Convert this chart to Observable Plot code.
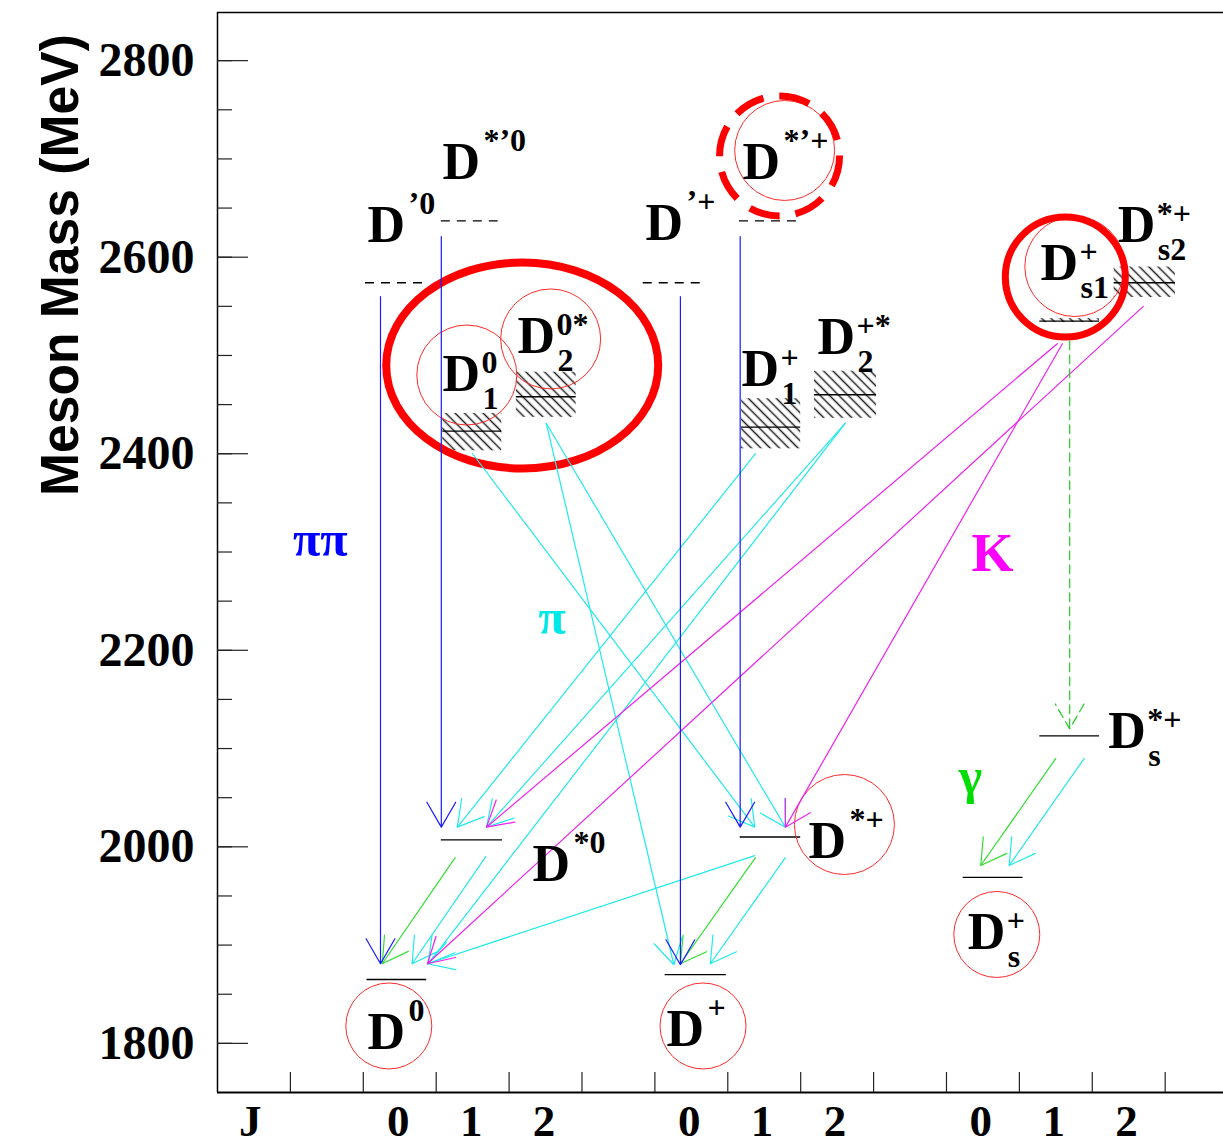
<!DOCTYPE html>
<html><head><meta charset="utf-8">
<script src="https://cdn.jsdelivr.net/npm/d3@7"></script>
<script src="https://cdn.jsdelivr.net/npm/@observablehq/plot@0.6"></script>
<style>body{margin:0;background:#fff} #chart svg{display:block;background:#fff}</style>
</head><body><div id="chart"></div>
<script>
// ---------------- data ----------------
// energy levels (MeV) and their J-column extents
const levelNames = ["D0","D*0","D+","D*+","Ds+","Ds*+","D1_0","D2_0","D1+","D2+","Ds1+","Ds2+","D'0","D*'0","D'+","D*'+"];
const levelMass  = [1865,2007,1870,2010,1969,2113,2423,2458,2427,2460,2535,2574,2574,2637,2574,2637];
const levelX1    = [2.05,3.07,6.14,7.17,10.23,11.28,3.09,4.10,7.19,8.19,11.28,12.30,2.03,3.07,5.84,7.16];
const levelX2    = [2.87,3.91,6.98,8.00,11.05,12.10,3.90,4.92,8.00,9.04,12.10,13.14,2.85,3.85,6.63,7.95];
const levelPredicted = [false,false,false,false,false,false,false,false,false,false,false,false,true,true,true,true];

// broad states (width bands)
const broadNames = ["D1_0","D2_0","D1+","D2+","Ds1+","Ds2+"];
const broadLow   = [2403,2437,2405,2436,2533.5,2559];
const broadHigh  = [2441,2483,2456,2484,2537.5,2590];

// decay arrows: type, start (x, MeV), end (x, MeV)
const arrowType = ["pipi","pipi","pipi","pipi","pi","pi","pi","pi","pi","pi","pi","pi","pi","pi","gamma","gamma","gamma","gammaDash","K","K","K"];
const arrowX1 = [2.236,3.07,6.35,7.17,3.50,4.51,4.51,7.38,8.61,8.61,3.68,7.79,7.37,11.89,3.26,7.38,11.50,11.69,11.52,11.59,12.70];
const arrowM1 = [2560,2621,2560,2621,2400,2431,2431,2400,2431,2431,1990,1989,1991,2090,1989,1989,2090,2515,2512,2512,2550];
const arrowX2 = [2.236,3.07,6.35,7.17,7.37,6.26,7.79,3.29,3.69,2.89,2.67,6.76,2.88,10.86,2.26,6.35,10.47,11.69,3.69,7.79,2.88];
const arrowM2 = [1881,2020,1880,2020,2020,1880,2020,2020,2020,1881,1881,1881,1881,1981,1881,1881,1981,2120,2020,2020,1881];

// state labels
const labelSup = ["’0","*’0","0","0*","’+","*’+","+","+*","+","*+","*+","+","0","*0","+","*+"];
const labelSub = ["","","1","2","","","1","2","s1","s2","s","s","","","",""];
const labelX   = [2.058,3.086,3.086,4.115,5.871,7.202,7.188,8.23,11.29,12.35,12.22,10.29,2.058,4.32,6.159,8.107];
const labelM   = [2615,2680,2464.3,2503,2617,2680,2469.4,2502,2576.3,2615,2100.1,1896.5,1793.8,1965.7,1797.8,1989.1];

// decay-mode labels
const modeText = ["ππ","π","K","γ"];
const modeType = ["pipi","pi","K","gamma"];
const modeX    = [1.41,4.59,10.63,10.33];
const modeM    = [2312,2233,2298,2071];

// highlight circles (centres)
const smallRingX = [2.35,6.66,10.69];
const smallRingM = [1817.7,1817.7,1910.8];
const ringX = [8.60,3.42,4.57,7.78,11.76];
const ringM = [2022.7,2480.1,2516.8,2708.6,2590.5];
const boldRingX = [11.63];   const boldRingM = [2579.8];
const dashRingX = [7.71];    const dashRingM = [2703];
const ellipseX  = [4.18];    const ellipseM  = [2489.8];

// axes
const yMajor = [1800,2000,2200,2400,2600,2800];
const yMinor = [1800,1850,1900,1950,2000,2050,2100,2150,2200,2250,2300,2350,2400,2450,2500,2550,2600,2650,2700,2750,2800];
const xTicks = [1,2,3,4,5,6,7,8,9,10,11,12,13];
const xTickLabels = ["J","0","1","2","0","1","2","0","1","2"];
const xTickPos    = [0.45,2.48,3.48,4.48,6.47,7.47,8.47,10.47,11.47,12.47];

// ---------------- build ----------------
const W = 1223, H = 1146, mL = 217, mR = 0, mT = 12, mB = 54;
const xDom = [0, 13.8], yDom = [1750, 2849];
const pxX = (W - mL - mR) / (xDom[1] - xDom[0]);
const pxY = (H - mT - mB) / (yDom[1] - yDom[0]);

const levels = levelNames.map((n, i) => ({n, m: levelMass[i], x1: levelX1[i], x2: levelX2[i], pred: levelPredicted[i]}));
const broad = broadNames.map((n, i) => {
  const L = levels.find(l => l.n === n);
  return {n, x1: L.x1, x2: L.x2, lo: broadLow[i], hi: broadHigh[i]};
});
const arrows = arrowType.map((t, i) => ({t, x1: arrowX1[i], y1: arrowM1[i], x2: arrowX2[i], y2: arrowM2[i]}));
const labels = labelSup.map((s, i) => ({sup: s, sub: labelSub[i], x: labelX[i], m: labelM[i]}));
const modes = modeText.map((s, i) => ({s, t: modeType[i], x: modeX[i], m: modeM[i]}));
const xLabelMap = new Map(xTickPos.map((p, i) => [p, xTickLabels[i]]));

const col = {pipi: "#1a1aff", pi: "#22eaea", K: "#ee22ee", gamma: "#33dd33", gammaDash: "#22cc22"};
const txtCol = {pipi: "#0000ff", pi: "#00e8e8", K: "#ff00ff", gamma: "#00dd00"};
const serif = "'Liberation Serif','Times New Roman',serif";
const sans = "'Liberation Sans',Arial,sans-serif";

const ellipseSymbol = {
  draw(ctx, size) {
    const rx = Math.sqrt(size / Math.PI), ry = rx * 103 / 136, k = 0.5523;
    ctx.moveTo(rx, 0);
    ctx.bezierCurveTo(rx, ry * k, rx * k, ry, 0, ry);
    ctx.bezierCurveTo(-rx * k, ry, -rx, ry * k, -rx, 0);
    ctx.bezierCurveTo(-rx, -ry * k, -rx * k, -ry, 0, -ry);
    ctx.bezierCurveTo(rx * k, -ry, rx, -ry * k, rx, 0);
    ctx.closePath();
  }
};

const arrowMark = (t, extra = {}) => Plot.arrow(arrows.filter(a => a.t === t), {
  x1: "x1", y1: "y1", x2: "x2", y2: "y2", stroke: col[t], strokeWidth: 1.2,
  headLength: 36, headAngle: 60, ...extra
});

const chart = Plot.plot({
  width: W, height: H,
  marginLeft: mL, marginRight: mR, marginTop: mT, marginBottom: mB,
  x: {domain: xDom, axis: null},
  y: {domain: yDom},
  style: {background: "#fff"},
  marks: [
    // hatched widths
    Plot.rect(broad, {x1: "x1", x2: "x2", y1: "lo", y2: "hi", fill: "url(#hatch)"}),
    // levels
    Plot.ruleY(levels.filter(l => !l.pred), {y: "m", x1: "x1", x2: "x2", stroke: "#000", strokeWidth: 1.3}),
    Plot.ruleY(levels.filter(l => l.pred), {y: "m", x1: "x1", x2: "x2", stroke: "#000", strokeWidth: 1.3, strokeDasharray: "9,7"}),
    // thin circles
    Plot.dot(smallRingX, {x: d => d, y: (d, i) => smallRingM[i], r: 43, stroke: "#ff2a2a", strokeWidth: 1, fill: "none"}),
    Plot.dot(ringX, {x: d => d, y: (d, i) => ringM[i], r: 50, stroke: "#ff2a2a", strokeWidth: 1, fill: "none"}),
    // thick highlights
    Plot.dot(ellipseX, {x: d => d, y: (d, i) => ellipseM[i], r: 136, symbol: ellipseSymbol, stroke: "#ff0000", strokeWidth: 8, fill: "none"}),
    Plot.dot(boldRingX, {x: d => d, y: (d, i) => boldRingM[i], r: 60, stroke: "#ff0000", strokeWidth: 7, fill: "none"}),
    Plot.dot(dashRingX, {x: d => d, y: (d, i) => dashRingM[i], r: 60, stroke: "#ff0000", strokeWidth: 7, fill: "none", strokeDasharray: "31,16"}),
    // arrows
    arrowMark("pi"),
    arrowMark("K"),
    arrowMark("gamma"),
    arrowMark("gammaDash", {strokeDasharray: "9,5"}),
    arrowMark("pipi"),
    // frame
    Plot.ruleX([xDom[0]], {stroke: "#000", strokeWidth: 1.5}),
    Plot.ruleY([yDom[1]], {stroke: "#000", strokeWidth: 1.5}),
    Plot.ruleY([yDom[0]], {stroke: "#000", strokeWidth: 2.2}),
    // y ticks (inward)
    Plot.ruleY(yMinor, {y: d => d, x1: xDom[0], x2: xDom[0] + 15 / pxX, stroke: "#222", strokeWidth: 1.2}),
    Plot.ruleY(yMajor, {y: d => d, x1: xDom[0], x2: xDom[0] + 31 / pxX, stroke: "#222", strokeWidth: 1.2}),
    // x ticks (inward)
    Plot.ruleX(xTicks, {x: d => d, y1: yDom[0], y2: yDom[0] + 20 / pxY, stroke: "#222", strokeWidth: 1.2}),
    Plot.axisY(yMajor, {tickSize: 0, tickPadding: 23, tickFormat: d => String(d), fontSize: 48, fontWeight: "bold", fontFamily: serif, label: null}),
    Plot.axisX(xTickPos, {tickSize: 0, tickPadding: 12, tickFormat: d => xLabelMap.get(d), fontSize: 45, fontWeight: "bold", fontFamily: serif, label: null}),
    Plot.text(["Meson Mass (MeV)"], {x: xDom[0] - 140 / pxX, y: 2592, rotate: -90, textAnchor: "middle", lineAnchor: "bottom", fontFamily: sans, fontWeight: "bold", fontSize: 54, fill: "#000"}),
    // state labels
    Plot.text(labels, {x: "x", y: "m", text: () => "D", textAnchor: "start", lineAnchor: "bottom", fontFamily: serif, fontWeight: "bold", fontSize: 52, fill: "#000"}),
    Plot.text(labels.filter(l => l.sub === ""), {x: "x", y: "m", text: "sup", dx: 41, dy: -28, textAnchor: "start", lineAnchor: "bottom", fontFamily: serif, fontWeight: "bold", fontSize: 32, fill: "#000"}),
    Plot.text(labels.filter(l => l.sub !== ""), {x: "x", y: "m", text: "sup", dx: 39, dy: -18, textAnchor: "start", lineAnchor: "bottom", fontFamily: serif, fontWeight: "bold", fontSize: 32, fill: "#000"}),
    Plot.text(labels.filter(l => l.sub !== ""), {x: "x", y: "m", text: "sub", dx: 40, dy: 18, textAnchor: "start", lineAnchor: "bottom", fontFamily: serif, fontWeight: "bold", fontSize: 32, fill: "#000"}),
    // decay-mode labels
    ...modeType.map(t => Plot.text(modes.filter(m => m.t === t), {x: "x", y: "m", text: "s", fill: txtCol[t], fontFamily: serif, fontWeight: "bold", fontSize: t === "K" ? 54 : 50, textAnchor: "middle", lineAnchor: "middle"}))
  ]
});

// hatch pattern definition
const svg = d3.select(chart);
const defs = svg.insert("defs", ":first-child");
const pat = defs.append("pattern").attr("id", "hatch").attr("patternUnits", "userSpaceOnUse")
  .attr("width", 6.6).attr("height", 6.6).attr("patternTransform", "rotate(-45)");
pat.append("line").attr("x1", 3.3).attr("y1", 0).attr("x2", 3.3).attr("y2", 6.6)
  .attr("stroke", "#222").attr("stroke-width", 1.5);

// condensed axis title
svg.selectAll("text").filter(function () { return this.textContent === "Meson Mass (MeV)"; })
  .attr("textLength", 462).attr("lengthAdjust", "spacingAndGlyphs");

document.getElementById("chart").appendChild(chart);
</script>
</body></html>
